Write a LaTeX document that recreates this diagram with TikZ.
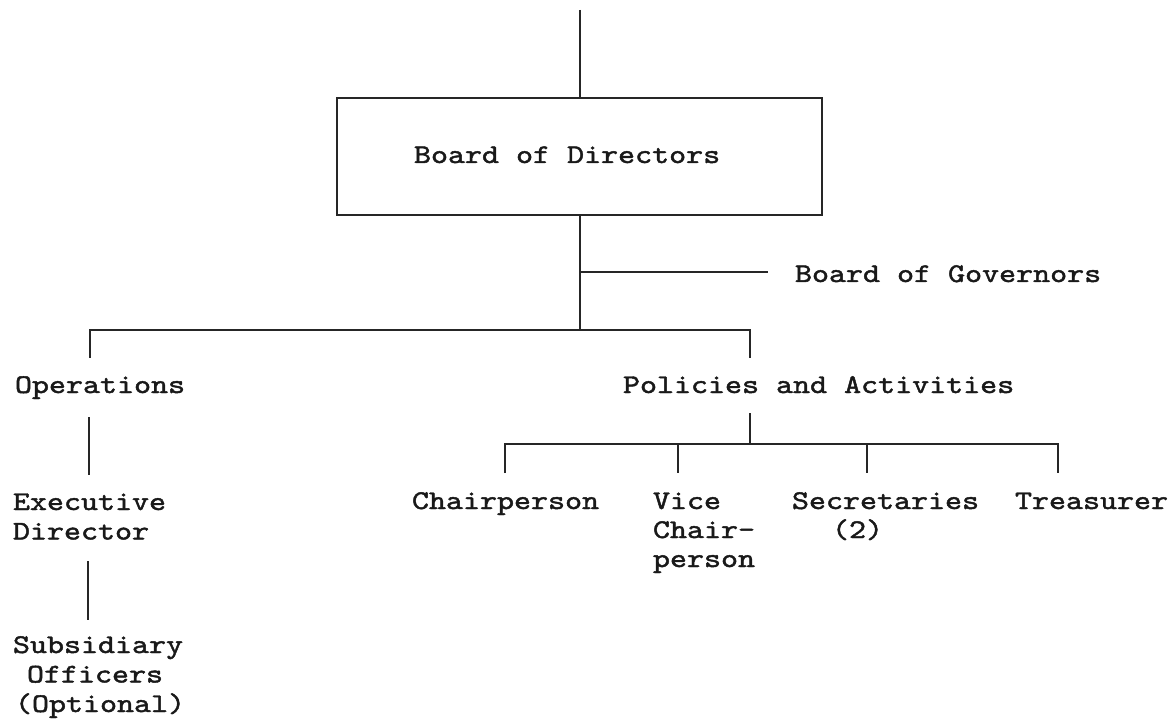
\documentclass[tikz,border=0pt]{standalone}
\usepackage{fontspec}
\newfontfamily\tw[FakeStretch=1.2,FakeBold=1.6]{lmmono10-regular.otf}
\begin{document}
\begin{tikzpicture}[x=1pt,y=-1pt,
  lbl/.style={anchor=base west,inner sep=0pt,outer sep=0pt,font=\tw\fontsize{27}{29}\selectfont,text=black!90},
  conn/.style={line width=2pt,draw=black!85},
  boxst/.style={draw=black!85,line width=2pt,minimum width=485pt,minimum height=117pt,inner sep=0pt}]
\path[use as bounding box,fill=white] (0,0) rectangle (1173,719);

% box
\node[boxst] (bod) at (579.5,156.5) {};
\node[lbl] (bodt) at (414,163) {Board of Directors};

\node[lbl] (gov) at (795,282) {Board of Governors};
\node[lbl] (ops) at (15,393) {Operations};
\node[lbl] (pol) at (623,393) {Policies and Activities};
\node[lbl] (exe) at (13,510) {\vtop{\baselineskip=29.5pt\hbox{Executive}\hbox{Director}}};
\node[lbl] (sub) at (13,653) {\vtop{\baselineskip=29.5pt\hbox{Subsidiary}\hbox{\hspace*{14pt}Officers}\hbox{\hspace*{2pt}(Optional)}}};
\node[lbl] (chp) at (412,509) {Chairperson};
\node[lbl] (vch) at (653,509) {\vtop{\baselineskip=29pt\hbox{Vice}\hbox{Chair-}\hbox{person}}};
\node[lbl] (sec) at (792,509) {\vtop{\baselineskip=29pt\hbox{Secretaries}\hbox{\hspace*{40pt}(2)}}};
\node[lbl] (tre) at (1015,509) {Treasurer};

% coordinates
\coordinate (top) at (579.5,10);
\coordinate (j0) at (579.5,272);
\coordinate (j1) at (579.5,330);
\coordinate (govE) at (768,272);
\coordinate (b1L) at (90,330);
\coordinate (b1R) at (750,330);
\coordinate (opsT) at (90,358);
\coordinate (polT) at (750,358);
\coordinate (opsB) at (89,417);
\coordinate (exeT) at (89,475);
\coordinate (exeB) at (88,561);
\coordinate (subT) at (88,620);
\coordinate (polB) at (750,413);
\coordinate (j2) at (750,444);
\coordinate (b2L) at (505,444);
\coordinate (b2V) at (678,444);
\coordinate (b2S) at (867,444);
\coordinate (b2R) at (1058,444);
\coordinate (chpT) at (505,473);
\coordinate (vchT) at (678,473);
\coordinate (secT) at (867,473);
\coordinate (treT) at (1058,473);

\draw[conn] (top) -- (bod.north);
\draw[conn] (bod.south) -- (j1);
\draw[conn] (j0) -- (govE);
\draw[conn] (opsT) -- (b1L) -- (b1R) -- (polT);
\draw[conn] (opsB) -- (exeT);
\draw[conn] (exeB) -- (subT);
\draw[conn] (polB) -- (j2);
\draw[conn] (chpT) -- (b2L) -- (b2R) -- (treT);
\draw[conn] (b2V) -- (vchT);
\draw[conn] (b2S) -- (secT);
\end{tikzpicture}
\end{document}
